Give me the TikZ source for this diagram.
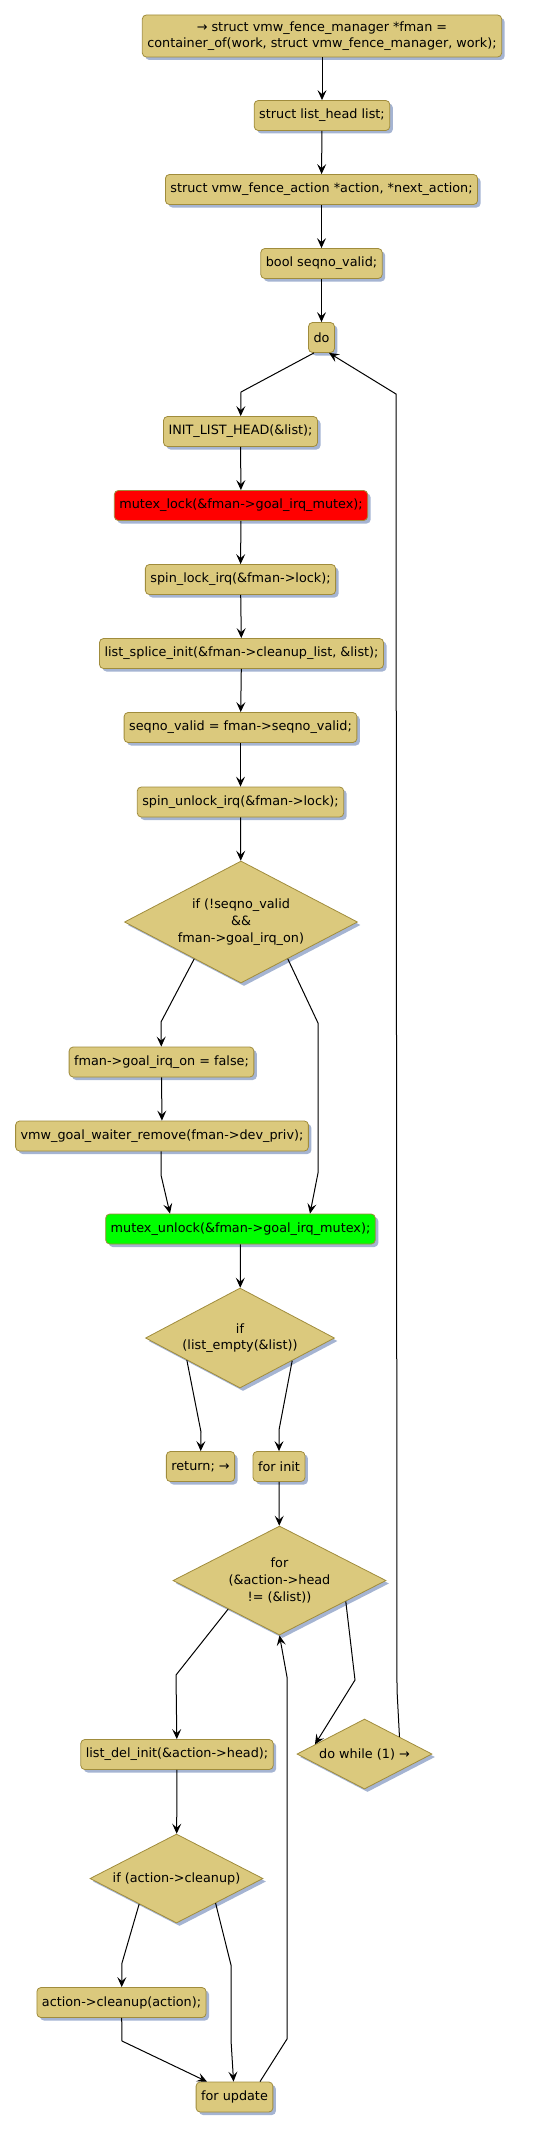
\documentclass[tikz,border=0pt]{standalone}
\usepackage{fontspec}
\setmainfont{DejaVu Sans}
\usepackage{tikz}
\usetikzlibrary{arrows.meta, shapes.geometric, shadows, calc}
\definecolor{actfill}{RGB}{219,201,125}
\definecolor{actline}{RGB}{160,140,60}
\definecolor{shadowc}{RGB}{165,180,210}
\tikzset{
  act/.style={draw=actline, fill=actfill, rounded corners=4pt, line width=0.8pt, minimum height=30pt, inner xsep=5pt, inner ysep=3pt, align=center,
    drop shadow={shadow xshift=3pt, shadow yshift=-3pt, fill=shadowc, opacity=1}},
  decision/.style={diamond, draw=actline, fill=actfill, line width=0.8pt, inner sep=0pt, shape aspect=1.93, align=center,
    drop shadow={shadow xshift=3pt, shadow yshift=-3pt, fill=shadowc, opacity=1}},
  flow/.style={line width=1pt, -{Stealth[length=10pt, width=9pt, inset=4pt]}}
}
\begin{document}
\begin{tikzpicture}[x=1pt, y=-1pt, font=\fontsize{12.8}{16.7}\selectfont]
\useasboundingbox (0,0) rectangle (543,2130);
\node[act, minimum height=42pt] (start) at (322,36) {→ struct vmw\_fence\_manager *fman =\\container\_of(work, struct vmw\_fence\_manager, work);};
\node[act] (listdecl) at (322,115.5) {struct list\_head list;};
\node[act] (actdecl) at (321.5,189.5) {struct vmw\_fence\_action *action, *next\_action;};
\node[act] (seqdecl) at (321.5,263.5) {bool seqno\_valid;};
\node[act] (donode) at (321.5,337.5) {do};
\node[act] (inithead) at (240.5,431.5) {INIT\_LIST\_HEAD(\&list);};
\node[act, fill=red] (mlock) at (241,505.5) {mutex\_lock(\&fman->goal\_irq\_mutex);};
\node[act] (slock) at (240.5,579.5) {spin\_lock\_irq(\&fman->lock);};
\node[act] (splice) at (241.5,653.5) {list\_splice\_init(\&fman->cleanup\_list, \&list);};
\node[act] (seqset) at (240.5,727.5) {seqno\_valid = fman->seqno\_valid;};
\node[act] (sunlock) at (240.5,802) {spin\_unlock\_irq(\&fman->lock);};
\node[decision, minimum width=233pt, minimum height=122pt] (ifseq) at (241,922) {if (!seqno\_valid\\\&\&\\fman->goal\_irq\_on)};
\node[act] (irqoff) at (161.5,1062) {fman->goal\_irq\_on = false;};
\node[act] (waiterrm) at (162,1136) {vmw\_goal\_waiter\_remove(fman->dev\_priv);};
\node[act, fill=green] (munlock) at (240.5,1229) {mutex\_unlock(\&fman->goal\_irq\_mutex);};
\node[decision, minimum width=189pt, minimum height=100pt] (ifempty) at (240,1338) {if\\(list\_empty(\&list))};
\node[act] (retnode) at (200.5,1466.5) {return; →};
\node[act] (forinit) at (279,1466.5) {for init};
\node[decision, minimum width=213pt, minimum height=109pt] (forcond) at (279.5,1580.5) {for\\(\&action->head\\!= (\&list))};
\node[act] (delinit) at (177,1754.5) {list\_del\_init(\&action->head);};
\node[decision, minimum width=135pt, minimum height=70pt] (dowhile) at (364.5,1754) {do while (1) →};
\node[decision, minimum width=173pt, minimum height=89pt] (ifclean) at (176.5,1878.5) {if (action->cleanup)};
\node[act] (cleanup) at (121.5,2002.5) {action->cleanup(action);};
\node[act] (forupd) at (234.5,2097) {for update};
\draw[flow] (start) -- (listdecl);
\draw[flow] (listdecl) -- (actdecl);
\draw[flow] (actdecl) -- (seqdecl);
\draw[flow] (seqdecl) -- (donode);
\draw[flow] ([xshift=-7.5pt]donode.south) -- (241,392) -- (inithead);
\draw[flow] (inithead) -- (mlock);
\draw[flow] (mlock) -- (slock);
\draw[flow] (slock) -- (splice);
\draw[flow] (splice) -- (seqset);
\draw[flow] (seqset) -- (sunlock);
\draw[flow] (sunlock) -- (ifseq);
\draw[flow] ($(ifseq.west)!0.6!(ifseq.south)$) -- (161,1022) -- (irqoff);
\draw[flow] ($(ifseq.east)!0.6!(ifseq.south)$) -- (318,1023) -- (318,1173) -- ([xshift=69.5pt]munlock.north);
\draw[flow] (irqoff) -- (waiterrm);
\draw[flow] (waiterrm.south -| 161,0) -- (161,1175) -- ([xshift=-70.5pt]munlock.north);
\draw[flow] (munlock) -- (ifempty);
\draw[flow] ($(ifempty.west)!0.44!(ifempty.south)$) -- (201,1432) -- (retnode);
\draw[flow] ($(ifempty.east)!0.45!(ifempty.south)$) -- (279,1430) -- (forinit);
\draw[flow] (forinit) -- (forcond);
\draw[flow] ($(forcond.west)!0.52!(forcond.south)$) -- (176,1675) -- (delinit);
\draw[flow] ($(forcond.east)!0.38!(forcond.south)$) -- (355,1680) -- ($(dowhile.west)!0.27!(dowhile.north)$);
\draw[flow] (delinit) -- (ifclean);
\draw[flow] ($(ifclean.west)!0.57!(ifclean.south)$) -- (122,1963) -- (cleanup);
\draw[flow] ($(ifclean.east)!0.55!(ifclean.south)$) -- (231,1965) -- (231,2040) -- (forupd);
\draw[flow] (cleanup) -- (122,2041) -- ([xshift=-27.5pt]forupd.north);
\draw[flow] ([xshift=25.5pt]forupd.north) -- (287,2039) -- (287,1677) -- (forcond.south);
\draw[flow] ($(dowhile.east)!0.485!(dowhile.north)$) -- (397,1690) -- (396,394) -- ([xshift=7.5pt]donode.south);
\end{tikzpicture}
\end{document}
